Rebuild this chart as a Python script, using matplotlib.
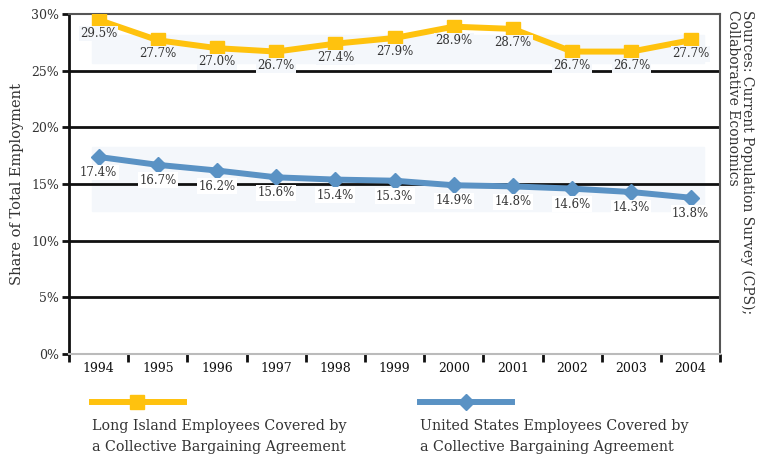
import matplotlib
matplotlib.use("Agg")
import matplotlib.pyplot as plt
from matplotlib.lines import Line2D

years = ["1994", "1995", "1996", "1997", "1998", "1999", "2000", "2001", "2002", "2003", "2004"]
long_island = [29.5, 27.7, 27.0, 26.7, 27.4, 27.9, 28.9, 28.7, 26.7, 26.7, 27.7]
united_states = [17.4, 16.7, 16.2, 15.6, 15.4, 15.3, 14.9, 14.8, 14.6, 14.3, 13.8]
yticks = [0, 5, 10, 15, 20, 25, 30]

FONT = "DejaVu Serif"
plt.rcParams["font.family"] = [FONT]
TXT = "#333333"
YELLOW = "#FFC20E"
BLUE = "#5A92C4"
BAND = "#F4F7FB"

fig = plt.figure(figsize=(7.67, 4.58), dpi=100)
ax = fig.add_axes([0.090, 0.227, 0.849, 0.742])

x = list(range(len(years)))
ax.set_xlim(-0.5, len(years) - 0.5)
ax.set_ylim(0, 30)

# soft shadow bands behind series
ax.axhspan(25.7, 28.2, xmin=0.035, xmax=0.975, color=BAND, zorder=0)
ax.axhspan(12.6, 18.3, xmin=0.035, xmax=0.975, color=BAND, zorder=0)

for yv in yticks[1:-1]:
    ax.axhline(yv, color="#111111", lw=2, zorder=1)

ax.plot(x, long_island, color=YELLOW, lw=4.3, marker="s", ms=10, zorder=3)
ax.plot(x, united_states, color=BLUE, lw=4.3, marker="D", ms=8.5, zorder=3)

for xi, v in zip(x, long_island):
    ax.annotate(f"{v:.1f}%", (xi, v), xytext=(0, -5.2), textcoords="offset points",
                ha="center", va="top", fontsize=8.5, color=TXT, zorder=4,
                bbox=dict(boxstyle="square,pad=0.1", fc=BAND, ec="none"))
for xi, v in zip(x, united_states):
    ax.annotate(f"{v:.1f}%", (xi, v), xytext=(0, -6.5), textcoords="offset points",
                ha="center", va="top", fontsize=8.5, color=TXT, zorder=4,
                bbox=dict(boxstyle="square,pad=0.12", fc="white", ec="none"))

ax.set_yticks(yticks)
ax.set_yticklabels([f"{v}%" for v in yticks], fontsize=9, color=TXT)
ax.set_xticks(x)
ax.set_xticklabels(years, fontsize=9, color="#111111")
ax.set_xticks([i - 0.5 for i in range(len(years) + 1)], minor=True)
ax.tick_params(axis="x", which="major", length=0, pad=6)
ax.tick_params(axis="x", which="minor", length=6, width=2, color="#111111", direction="out")
ax.tick_params(axis="y", length=5, width=2, color="#111111", pad=2)

ax.spines["left"].set_color("#111111")
ax.spines["left"].set_linewidth(2)
ax.spines["top"].set_color("#555555")
ax.spines["top"].set_linewidth(1.5)
ax.spines["right"].set_color("#555555")
ax.spines["right"].set_linewidth(1.5)
ax.spines["bottom"].set_color("#BBBBBB")
ax.spines["bottom"].set_linewidth(1.5)

ax.set_ylabel("Share of Total Employment", fontsize=10.5, color=TXT, labelpad=5)

fig.text(0.947, 0.978, "Sources: Current Population Survey (CPS);\nCollaborative Economics",
         rotation=-90, ha="left", va="top", fontsize=10, color=TXT, linespacing=1.0)

# legend (pixel-like coordinates, y from top of this strip)
lax = fig.add_axes([0, 0, 1, 0.2])
lax.set_xlim(0, 767)
lax.set_ylim(91.6, 0)
lax.axis("off")
lax.add_line(Line2D([92, 184], [35.6, 35.6], color=YELLOW, lw=4.3))
lax.add_line(Line2D([137], [35.6], color=YELLOW, marker="s", ms=10, lw=0))
lax.add_line(Line2D([420, 512], [35.6, 35.6], color=BLUE, lw=4.3))
lax.add_line(Line2D([466], [35.6], color=BLUE, marker="D", ms=8.5, lw=0))
lax.text(92, 53, "Long Island Employees Covered by\na Collective Bargaining Agreement",
         ha="left", va="top", fontsize=10.3, color=TXT, linespacing=1.6)
lax.text(420, 53, "United States Employees Covered by\na Collective Bargaining Agreement",
         ha="left", va="top", fontsize=10.3, color=TXT, linespacing=1.6)

fig.savefig("out.png", dpi=100)
